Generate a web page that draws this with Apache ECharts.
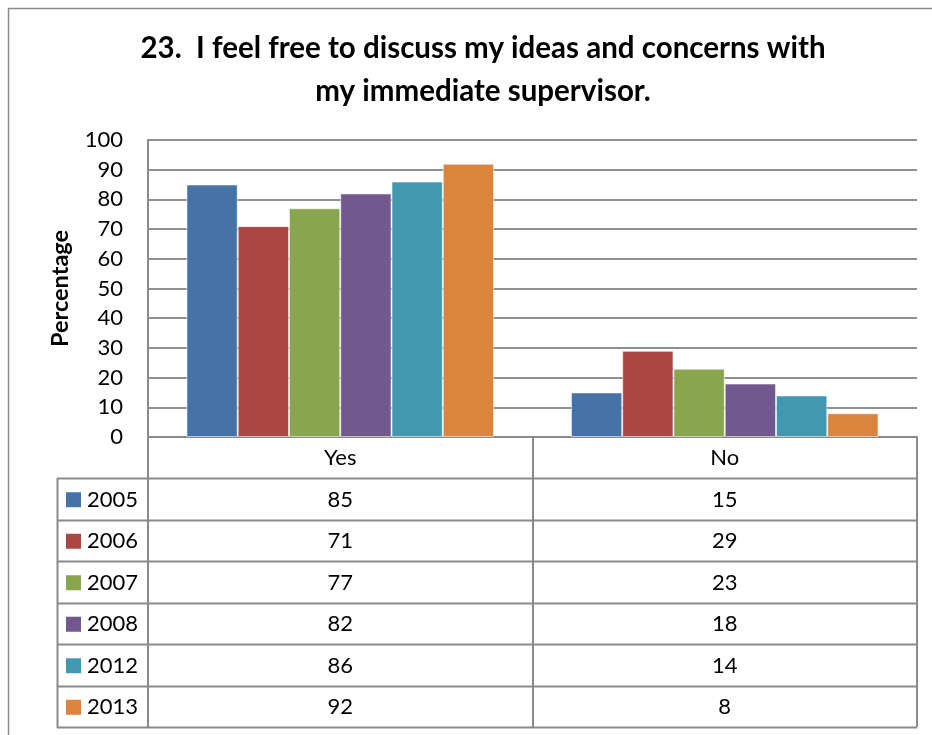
<!DOCTYPE html>
<html>
<head>
<meta charset="utf-8">
<script src="https://cdn.jsdelivr.net/npm/echarts@6/dist/echarts.min.js"></script>
<style>
  html, body { margin: 0; padding: 0; background: #fff; }
  #chart { width: 932px; height: 735px; }
</style>
</head>
<body>
<div id="chart"></div>
<script>
// Survey question 23: share of staff answering Yes / No, by survey year
const titleLines = ['23.  I feel free to discuss my ideas and concerns with', 'my immediate supervisor.'];
const categories = ['Yes', 'No'];
const years = ['2005', '2006', '2007', '2008', '2012', '2013'];
const values2005 = [85, 15];
const values2006 = [71, 29];
const values2007 = [77, 23];
const values2008 = [82, 18];
const values2012 = [86, 14];
const values2013 = [92, 8];
const yTicks = { min: 0, max: 100, interval: 10 };
const yAxisTitle = 'Percentage';

const seriesValues = [values2005, values2006, values2007, values2008, values2012, values2013];
const palette = ['#4572A7', '#AA4643', '#89A54E', '#71588F', '#4198AF', '#DB843D'];

const FONT = 'Lato, "Open Sans", sans-serif';
const TEXT_SIZE = 22;
const W = 932, H = 735;
const gridLeft = 148, gridRight = 917, gridTop = 140, gridBottom = 437;
const tableLeft = 57;
const rowH = 41.5;
const headerH = 41;
const lineColor = '#8a8a8a';

const chart = echarts.init(document.getElementById('chart'), null, { renderer: 'canvas' });

// Data table beneath the plot: one row per year, one column per category
function tableGraphics() {
  const g = [];
  const firstRowTop = gridBottom + headerH;
  const bottom = firstRowTop + rowH * years.length;
  const colW = (gridRight - gridLeft) / categories.length;

  // horizontal rules
  for (let r = 0; r <= years.length; r++) {
    const y = Math.round(firstRowTop + rowH * r) + 0.5;
    g.push({ type: 'line', shape: { x1: tableLeft, y1: y, x2: gridRight, y2: y },
      style: { stroke: lineColor, lineWidth: 2 }, silent: true });
  }
  // left border of the series-name column
  g.push({ type: 'line', shape: { x1: tableLeft + 0.5, y1: firstRowTop, x2: tableLeft + 0.5, y2: bottom + 1 },
    style: { stroke: lineColor, lineWidth: 2 }, silent: true });

  years.forEach((yr, r) => {
    const cy = firstRowTop + rowH * r + rowH / 2 + 1;
    g.push({ type: 'rect', shape: { x: 66, y: cy - 7.5, width: 15, height: 15 },
      style: { fill: palette[r] }, silent: true });
    g.push({ type: 'text', x: 87, y: cy,
      style: { text: yr, font: TEXT_SIZE + 'px ' + FONT, fill: '#000', textVerticalAlign: 'middle', verticalAlign: 'middle' },
      silent: true });
    categories.forEach((c, ci) => {
      g.push({ type: 'text', x: gridLeft + colW * (ci + 0.5), y: cy,
        style: { text: String(seriesValues[r][ci]), font: TEXT_SIZE + 'px ' + FONT, fill: '#000',
          align: 'center', textAlign: 'center', verticalAlign: 'middle', textVerticalAlign: 'middle' },
        silent: true });
    });
  });

  // outer frame of the whole chart
  g.push({ type: 'rect', shape: { x: 8.5, y: 8.5, width: W + 20, height: H + 20 },
    style: { fill: 'none', stroke: '#8a8a8a', lineWidth: 1.5 }, silent: true, z: -1 });
  return g;
}

const option = {
  animation: false,
  backgroundColor: '#fff',
  color: palette,
  title: {
    text: titleLines.join('\n'),
    left: 478, top: 22,
    textAlign: 'center',
    textStyle: { fontFamily: FONT, fontWeight: 'bold', fontSize: 29.5, lineHeight: 43, color: '#000' }
  },
  grid: { left: gridLeft, right: W - gridRight, top: gridTop, bottom: H - gridBottom, containLabel: false },
  xAxis: {
    type: 'category',
    data: categories,
    axisLine: { show: true, lineStyle: { color: lineColor, width: 2 } },
    axisTick: { show: true, length: headerH + rowH * years.length, lineStyle: { color: lineColor, width: 2 } },
    axisLabel: { fontFamily: FONT, fontSize: TEXT_SIZE, color: '#000', margin: 10 },
    splitLine: { show: false }
  },
  yAxis: {
    type: 'value',
    min: yTicks.min, max: yTicks.max, interval: yTicks.interval,
    name: yAxisTitle,
    nameLocation: 'middle',
    nameGap: 76,
    nameRotate: 90,
    nameTextStyle: { fontFamily: FONT, fontSize: 23.5, fontWeight: 'bold', color: '#000' },
    axisLine: { show: true, lineStyle: { color: lineColor, width: 2 } },
    axisTick: { show: false },
    axisLabel: { fontFamily: FONT, fontSize: TEXT_SIZE, color: '#000', margin: 25 },
    splitLine: { show: true, lineStyle: { color: '#8f8f8f', width: 2 } }
  },
  series: years.map((yr, i) => ({
    name: yr,
    type: 'bar',
    data: seriesValues[i],
    barGap: '0%',
    barCategoryGap: '20%',
    itemStyle: { color: palette[i], borderColor: 'rgba(255,255,255,0.55)', borderWidth: 1 }
  })),
  graphic: tableGraphics()
};

chart.setOption(option);
</script>
</body>
</html>
